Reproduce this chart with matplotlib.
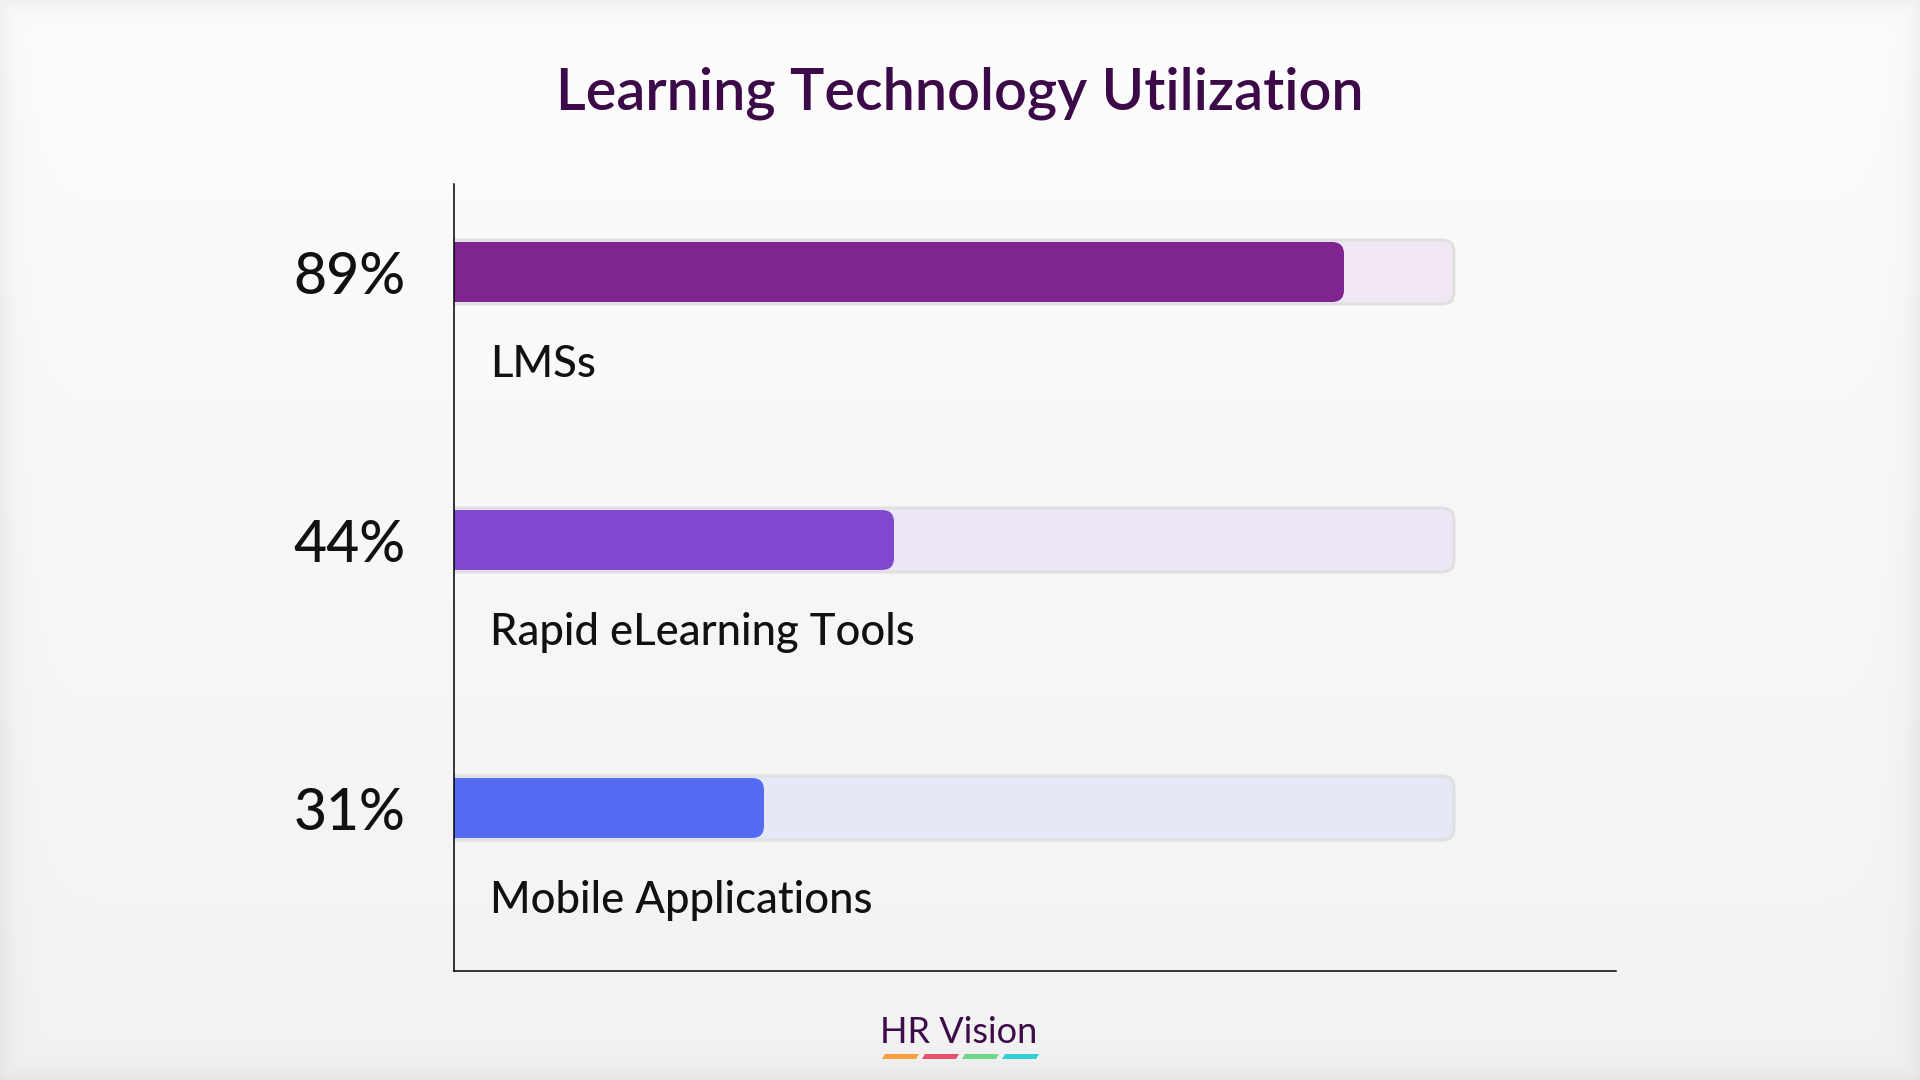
import numpy as np
import matplotlib
matplotlib.use("Agg")
import matplotlib.pyplot as plt
from matplotlib.patches import FancyBboxPatch, Polygon

# ---------------- data ----------------
categories = ["LMSs", "Rapid eLearning Tools", "Mobile Applications"]
values = [89, 44, 31]
value_labels = ["89%", "44%", "31%"]
bar_colors = ["#7f2592", "#8048cf", "#546bf2"]
track_colors = ["#f2e7f4", "#ede6f6", "#e6e8f6"]
title = "Learning Technology Utilization"
brand = "HR Vision"
brand_colors = ["#f5a03a", "#e4536a", "#6fd68a", "#35ced6"]

plt.rcParams["font.family"] = ["Lato", "DejaVu Sans"]

W, H = 1920, 1080
fig = plt.figure(figsize=(19.2, 10.8), dpi=100)

# ---------------- background ----------------
bg = fig.add_axes([0, 0, 1, 1], zorder=-10)
yy, xx = np.mgrid[0:H, 0:W]
base = 0.992 - 0.042 * (yy / H)
d = np.minimum.reduce([xx, W - 1 - xx, yy, H - 1 - yy]).astype(float)
vign = 0.05 * np.exp(-d / 14.0)
img = np.clip(base - vign, 0, 1)
bg.imshow(np.dstack([img, img, img]), aspect="auto", extent=[0, W, H, 0])
bg.set_xlim(0, W)
bg.set_ylim(H, 0)
bg.axis("off")

# ---------------- main axes ----------------
left_px, right_px, top_px, bot_px = 454, 1616, 184, 971
ax = fig.add_axes([left_px / W, 1 - bot_px / H, (right_px - left_px) / W, (bot_px - top_px) / H])
ax.set_facecolor("none")
px_per_x = 10.0                      # 100% -> 1000 px
ax.set_xlim(0, (right_px - left_px) / px_per_x)
spacing_px = 268.0
first_center_px = 272
ylim_top = -(first_center_px - top_px) / spacing_px
ylim_bot = (len(categories) - 1) + (bot_px - (first_center_px + spacing_px * (len(categories) - 1))) / spacing_px
ax.set_ylim(ylim_bot, ylim_top)

for s in ["top", "right"]:
    ax.spines[s].set_visible(False)
for s in ["left", "bottom"]:
    ax.spines[s].set_color("#000000")
    ax.spines[s].set_linewidth(1.1)
    ax.spines[s].set_zorder(5)
ax.set_xticks([])
ax.set_yticks([])

unit_y_px = spacing_px
r_px = 12
aspect = (1 / unit_y_px) / (1 / px_per_x)   # y-units per x-unit for equal px
bar_h = 60 / unit_y_px
track_h = 64 / unit_y_px

for i, (cat, v, lab, bc, tc) in enumerate(zip(categories, values, value_labels, bar_colors, track_colors)):
    # track
    track = FancyBboxPatch((-3, i - track_h / 2), 100 + 3, track_h,
                           boxstyle=f"round,pad=0,rounding_size={r_px / px_per_x}",
                           mutation_aspect=aspect, facecolor=tc, edgecolor="#e0e0e0",
                           linewidth=2.2, zorder=2)
    ax.add_patch(track)
    # value bar
    bar = FancyBboxPatch((-3, i - bar_h / 2), v + 3, bar_h,
                         boxstyle=f"round,pad=0,rounding_size={r_px / px_per_x}",
                         mutation_aspect=aspect, facecolor=bc, edgecolor="none",
                         linewidth=0, zorder=3)
    ax.add_patch(bar)
    # percentage label
    ax.text((406 - left_px) / px_per_x, i + 22 / unit_y_px, lab, ha="right", va="baseline",
            fontsize=41, fontweight="medium", color="#111111", clip_on=False)
    # category label
    ax.text((490 - left_px) / px_per_x, i + 105 / unit_y_px, cat, ha="left", va="baseline",
            fontsize=31.4, fontweight="medium", color="#111111", clip_on=False)

# ---------------- title ----------------
fig.text(0.5, 1 - 109 / H, title, ha="center", va="baseline", fontsize=41.5,
         fontweight="semibold", color="#3c0a48")

# ---------------- footer brand ----------------
fig.text(880 / W, 1 - 1043 / H, brand, ha="left", va="baseline", fontsize=26,
         color="#3d0b4a")
seg_w, gap, y0, y1, skew = 34, 6, 1054, 1059, 3
for k, c in enumerate(brand_colors):
    x0 = 882 + k * (seg_w + gap)
    pts = [(x0, y1), (x0 + seg_w, y1), (x0 + seg_w + skew, y0), (x0 + skew, y0)]
    pts = [(px / W, 1 - py / H) for px, py in pts]
    fig.patches.append(Polygon(pts, closed=True, facecolor=c, edgecolor="none",
                               transform=fig.transFigure, figure=fig))

fig.savefig("out.png", dpi=100)
